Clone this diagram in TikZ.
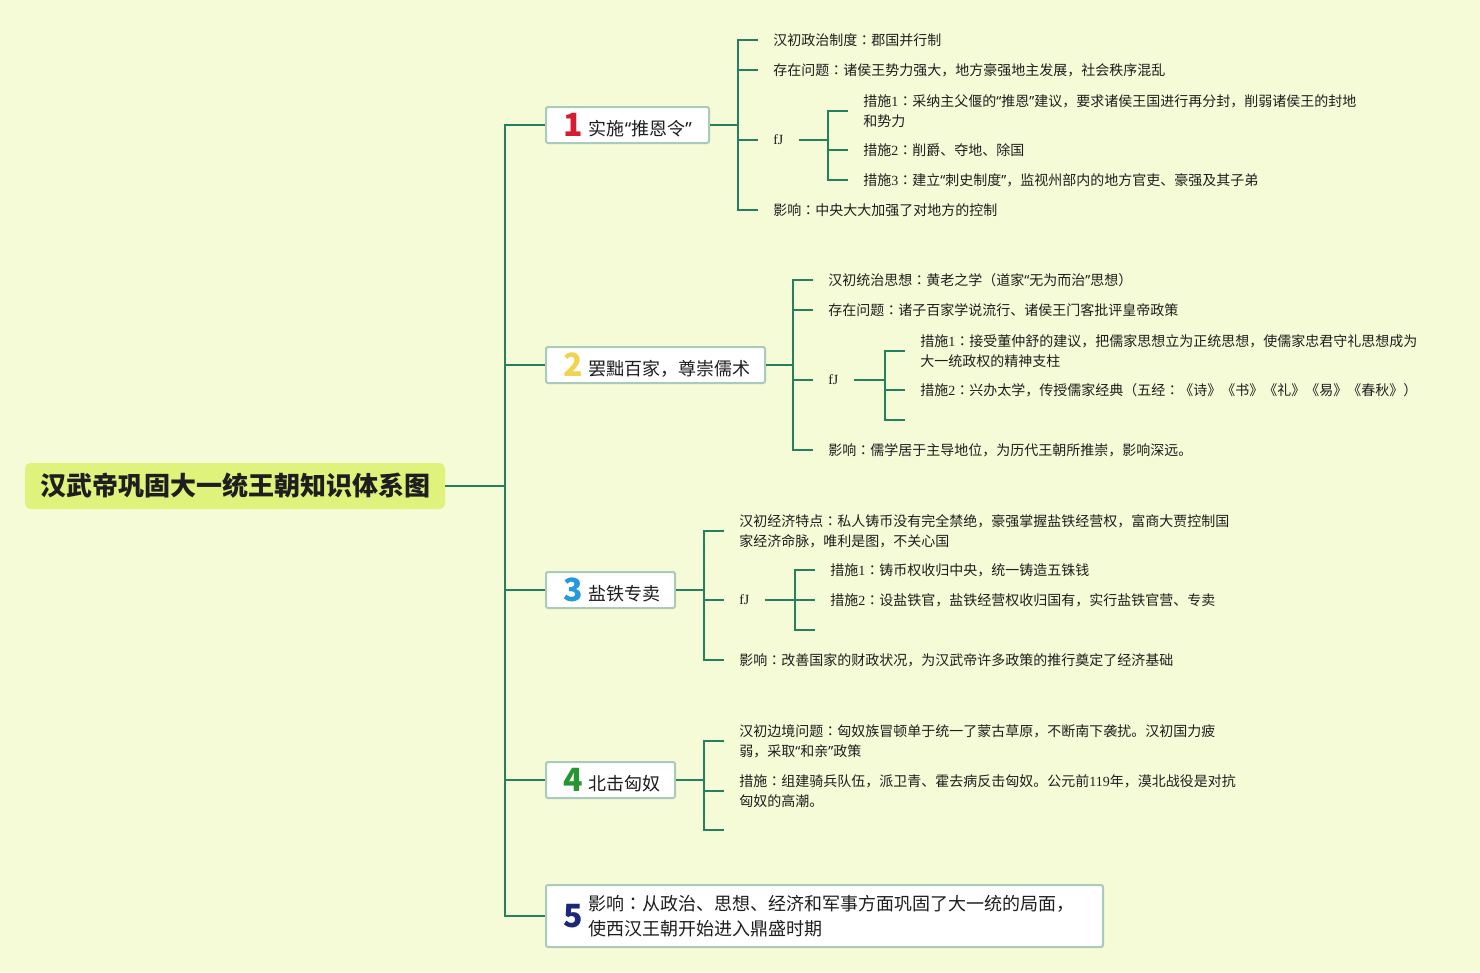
\documentclass[tikz,border=0pt]{standalone}
\usepackage{fontspec}
\setmainfont{Noto Sans CJK SC}
\newfontfamily\latfont{Liberation Serif}
\newfontfamily\tcfont{Noto Sans CJK TC}
\newfontfamily\qfont{Noto Sans}
\usepackage{tikz}
\definecolor{mybg}{RGB}{245,251,214}
\definecolor{myroot}{RGB}{222,242,124}
\definecolor{mygreen}{RGB}{36,128,94}
\definecolor{myframe}{RGB}{170,202,186}
\definecolor{myred}{RGB}{214,28,48}
\definecolor{myyellow}{RGB}{240,212,80}
\definecolor{myblue}{RGB}{38,152,222}
\definecolor{mygrass}{RGB}{40,150,48}
\definecolor{mynavy}{RGB}{28,40,118}
\definecolor{mytext}{RGB}{30,30,30}
\newcommand\badge[2]{\textcolor{#1}{\fontsize{24pt}{24pt}\selectfont\bfseries #2}}
\newcommand\lat[1]{{\latfont #1}}
\newcommand\cc{{\tcfont ：}}
\newcommand\qt[1]{{\qfont “}#1{\qfont ”}}
\tikzset{
  rootbox/.style={rectangle, fill=myroot, rounded corners=4pt,
    minimum width=315pt, minimum height=34.5pt, inner sep=0pt,
    font=\fontsize{19.5pt}{22pt}\selectfont\bfseries},
  topicbox/.style={rectangle, draw=myframe, fill=white, line width=1.5pt,
    rounded corners=1.5pt, minimum height=27pt, inner sep=0pt, anchor=west,
    font=\fontsize{13.5pt}{18.75pt}\selectfont},
  leaf/.style={anchor=west, align=left, inner xsep=11.25pt, inner ysep=0pt,
    font=\fontsize{10.5pt}{15pt}\selectfont},
  link/.style={draw=mygreen, line width=1.5pt}
}

\begin{document}
\begin{tikzpicture}[x=0.75pt, y=-0.75pt, color=mytext]
  % page
  \fill[mybg] (0,0) rectangle (1480,972);
  \useasboundingbox (0,0) rectangle (1480,972);

  % root and trunk
  \node[rootbox] (root) at (235,486) {汉武帝巩固大一统王朝知识体系图};
  \coordinate (trunk) at (505,486);

  % topics
  \node[topicbox] (t1) at (545,125)
    {\makebox[122.25pt][l]{\hspace{13pt}\raisebox{-1pt}{\badge{myred}{1}}\hspace{4.5pt}实施\qt{推恩令}}};
  \node[topicbox] (t2) at (545,365)
    {\makebox[164.25pt][l]{\hspace{13pt}\raisebox{-1pt}{\badge{myyellow}{2}}\hspace{4.5pt}罢黜百家，尊崇儒术}};
  \node[topicbox] (t3) at (545,590)
    {\makebox[96.75pt][l]{\hspace{13pt}\raisebox{-1pt}{\badge{myblue}{3}}\hspace{4.5pt}盐铁专卖}};
  \node[topicbox] (t4) at (545,780)
    {\makebox[96.75pt][l]{\hspace{13pt}\raisebox{-1pt}{\badge{mygrass}{4}}\hspace{4.5pt}北击匈奴}};
  \node[topicbox, minimum height=46.5pt] (t5) at (545,916)
    {\makebox[417.75pt][l]{\hspace{13pt}\raisebox{-5pt}{\badge{mynavy}{5}}\hspace{4.5pt}%
     \parbox[c]{380pt}{影响\cc 从政治、思想、经济和军事方面巩固了大一统的局面，\\使西汉王朝开始进入鼎盛时期}}};

  \draw[link] (root.east) -- (trunk);
  \foreach \t in {t1,t2,t3,t4,t5}
    \draw[link] (trunk) |- (\t.west);

  % 1 实施推恩令
  \coordinate (s1) at (738,125);
  \node[leaf] (l11) at (758,40) {汉初政治制度\cc 郡国并行制};
  \node[leaf] (l12) at (758,70) {存在问题\cc 诸侯王势力强大，地方豪强地主发展，社会秩序混乱};
  \node[leaf] (f1) at (758,140) {\lat{fJ}};
  \node[leaf] (l14) at (758,210) {影响\cc 中央大大加强了对地方的控制};
  \draw[link] (t1.east) -- (s1);
  \foreach \n in {l11,l12,f1,l14}
    \draw[link] (s1) |- (\n.west);
  \coordinate (g1) at (828,140);
  \node[leaf] (m11) at (848,111) {措施\lat{1}\cc 采纳主父偃的\qt{推恩}建议，要求诸侯王国进行再分封，削弱诸侯王的封地\\和势力};
  \node[leaf] (m12) at (848,150) {措施\lat{2}\cc 削爵、夺地、除国};
  \node[leaf] (m13) at (848,180) {措施\lat{3}\cc 建立\qt{刺史制度}，监视州部内的地方官吏、豪强及其子弟};
  \draw[link] (f1.east) -- (g1);
  \foreach \n in {m11,m12,m13}
    \draw[link] (g1) |- (\n.west);

  % 2 罢黜百家
  \coordinate (s2) at (793,365);
  \node[leaf] (l21) at (813,280) {汉初统治思想\cc 黄老之学（道家\qt{无为而治}思想）};
  \node[leaf] (l22) at (813,310) {存在问题\cc 诸子百家学说流行、诸侯王门客批评皇帝政策};
  \node[leaf] (f2) at (813,380) {\lat{fJ}};
  \node[leaf] (l24) at (813,450) {影响\cc 儒学居于主导地位，为历代王朝所推崇，影响深远。};
  \draw[link] (t2.east) -- (s2);
  \foreach \n in {l21,l22,f2,l24}
    \draw[link] (s2) |- (\n.west);
  \coordinate (g2) at (885,380);
  \node[leaf] (m21) at (905,351) {措施\lat{1}\cc 接受董仲舒的建议，把儒家思想立为正统思想，使儒家忠君守礼思想成为\\大一统政权的精神支柱};
  \node[leaf] (m22) at (905,390) {措施\lat{2}\cc 兴办太学，传授儒家经典（五经\cc 《诗》《书》《礼》《易》《春秋》）};
  \coordinate (e23) at (905,420);
  \draw[link] (f2.east) -- (g2);
  \foreach \n in {m21.west,m22.west,e23}
    \draw[link] (g2) |- (\n);

  % 3 盐铁专卖
  \coordinate (s3) at (704,590);
  \node[leaf] (l31) at (724,531) {汉初经济特点\cc 私人铸币没有完全禁绝，豪强掌握盐铁经营权，富商大贾控制国\\家经济命脉，唯利是图，不关心国};
  \node[leaf] (f3) at (724,600) {\lat{fJ}};
  \node[leaf] (l33) at (724,660) {影响\cc 改善国家的财政状况，为汉武帝许多政策的推行奠定了经济基础};
  \draw[link] (t3.east) -- (s3);
  \foreach \n in {l31,f3,l33}
    \draw[link] (s3) |- (\n.west);
  \coordinate (g3) at (795,600);
  \node[leaf] (m31) at (815,570) {措施\lat{1}\cc 铸币权收归中央，统一铸造五铢钱};
  \node[leaf] (m32) at (815,600) {措施\lat{2}\cc 设盐铁官，盐铁经营权收归国有，实行盐铁官营、专卖};
  \coordinate (e33) at (815,630);
  \draw[link] (f3.east) -- (g3);
  \foreach \n in {m31.west,m32.west,e33}
    \draw[link] (g3) |- (\n);

  % 4 北击匈奴
  \coordinate (s4) at (704,780);
  \node[leaf] (l41) at (724,741) {汉初边境问题\cc 匈奴族冒顿单于统一了蒙古草原，不断南下袭扰。汉初国力疲\\弱，采取\qt{和亲}政策};
  \node[leaf] (l42) at (724,791) {措施\cc 组建骑兵队伍，派卫青、霍去病反击匈奴。公元前\lat{119}年，漠北战役是对抗\\匈奴的高潮。};
  \coordinate (e43) at (724,830);
  \draw[link] (t4.east) -- (s4);
  \foreach \n in {l41.west,l42.west,e43}
    \draw[link] (s4) |- (\n);
\end{tikzpicture}
\end{document}
